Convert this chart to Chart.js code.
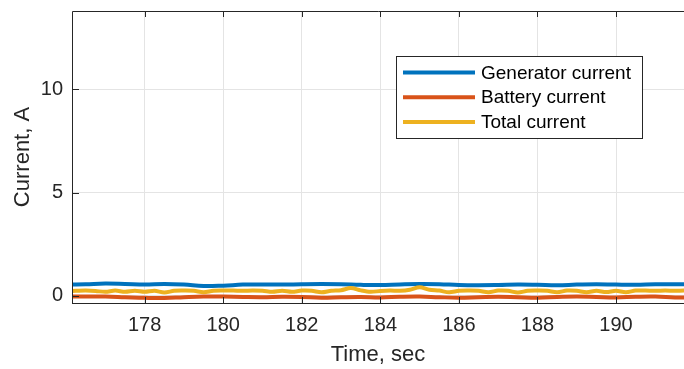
<!DOCTYPE html>
<html lang="en">
<head>
<meta charset="UTF-8" />
<title>Generator, battery and total current</title>
<script src="https://cdn.jsdelivr.net/npm/chart.js"></script>
<style>
  body { margin: 0; background: #fff; }
  #wrap { width: 684px; height: 369px; }
</style>
</head>
<body>
<div id="wrap"><canvas id="currentChart" width="684" height="369"></canvas></div>
<script>
  // time samples (sec)
  const timeCoarse = [176, 176.5, 177, 177.5, 178, 178.5, 179, 179.5, 180, 180.5, 181, 181.5,
    182, 182.5, 183, 183.5, 184, 184.5, 185, 185.5, 186, 186.5, 187, 187.5, 188, 188.5,
    189, 189.5, 190, 190.5, 191, 191.5, 192];
  const timeFine = [176, 176.25, 176.5, 176.75, 177, 177.25, 177.5, 177.75, 178, 178.25, 178.5, 178.75,
    179, 179.25, 179.5, 179.75, 180, 180.25, 180.5, 180.75, 181, 181.25, 181.5, 181.75,
    182, 182.25, 182.5, 182.75, 183, 183.25, 183.5, 183.75, 184, 184.25, 184.5, 184.75,
    185, 185.25, 185.5, 185.75, 186, 186.25, 186.5, 186.75, 187, 187.25, 187.5, 187.75,
    188, 188.25, 188.5, 188.75, 189, 189.25, 189.5, 189.75, 190, 190.25, 190.5, 190.75,
    191, 191.25, 191.5, 191.75, 192];

  // currents (A)
  const generatorCurrent = [0.55, 0.57, 0.6, 0.58, 0.55, 0.58, 0.55, 0.48, 0.5, 0.55, 0.56, 0.55,
    0.57, 0.58, 0.57, 0.54, 0.53, 0.56, 0.58, 0.57, 0.53, 0.52, 0.53, 0.55, 0.54, 0.52,
    0.55, 0.57, 0.55, 0.54, 0.57, 0.57, 0.56];
  const batteryCurrent = [-0.03, -0.02, -0.03, -0.06, -0.09, -0.1, -0.06, -0.03, -0.03, -0.05, -0.06, -0.04,
    -0.05, -0.08, -0.06, -0.05, -0.07, -0.04, -0.03, -0.06, -0.08, -0.06, -0.04, -0.06, -0.08, -0.05,
    -0.03, -0.05, -0.07, -0.04, -0.03, -0.07, -0.08];
  const totalCurrent = [0.24, 0.25, 0.26, 0.24, 0.2, 0.26, 0.2, 0.25, 0.2, 0.25, 0.17, 0.25,
    0.26, 0.25, 0.18, 0.25, 0.26, 0.26, 0.25, 0.26, 0.25, 0.2, 0.25, 0.2,
    0.26, 0.25, 0.18, 0.25, 0.28, 0.38, 0.27, 0.2, 0.24, 0.26, 0.25, 0.3,
    0.42, 0.3, 0.26, 0.18, 0.25, 0.26, 0.25, 0.18, 0.26, 0.25, 0.17, 0.25,
    0.26, 0.25, 0.18, 0.26, 0.25, 0.18, 0.25, 0.19, 0.25, 0.18, 0.26, 0.26,
    0.25, 0.26, 0.25, 0.26, 0.25];

  const xTicks = [178, 180, 182, 184, 186, 188, 190];
  const yTicks = [0, 5, 10];

  const axisColor = '#262626';
  const gridColor = '#e4e4e4';

  Chart.defaults.font.family = '"Liberation Sans", Arial, sans-serif';
  Chart.defaults.color = axisColor;

  const toPoints = (xs, ys) => xs.map((x, i) => ({ x: x, y: ys[i] }));

  // matlab style box, inward ticks and legend
  const boxPlugin = {
    id: 'matlabBox',
    afterDatasetsDraw(chart) {
      const { ctx, chartArea: a, scales } = chart;
      ctx.save();
      ctx.strokeStyle = axisColor;
      ctx.lineWidth = 1;
      ctx.beginPath();
      ctx.moveTo(a.left + 0.5, a.bottom + 0.5);
      ctx.lineTo(a.left + 0.5, a.top + 0.5);
      ctx.lineTo(a.right, a.top + 0.5);
      ctx.moveTo(a.left, a.bottom + 0.5);
      ctx.lineTo(a.right, a.bottom + 0.5);
      xTicks.forEach(v => {
        const x = Math.round(scales.x.getPixelForValue(v)) + 0.5;
        ctx.moveTo(x, a.bottom); ctx.lineTo(x, a.bottom - 6);
        ctx.moveTo(x, a.top); ctx.lineTo(x, a.top + 6);
      });
      yTicks.forEach(v => {
        const y = Math.round(scales.y.getPixelForValue(v)) + 0.5;
        ctx.moveTo(a.left, y); ctx.lineTo(a.left + 7, y);
      });
      ctx.stroke();

      // legend
      const lx = 396, ly = 56, lw = 246, lh = 82;
      ctx.fillStyle = '#fff';
      ctx.fillRect(lx, ly, lw, lh);
      ctx.strokeRect(lx + 0.5, ly + 0.5, lw, lh);
      ctx.font = '19px "Liberation Sans", Arial, sans-serif';
      ctx.textBaseline = 'middle';
      chart.data.datasets.forEach((ds, i) => {
        const y = ly + 16.5 + i * 24.7;
        ctx.strokeStyle = ds.borderColor;
        ctx.lineWidth = 4;
        ctx.beginPath();
        ctx.moveTo(403, y); ctx.lineTo(475, y);
        ctx.stroke();
        ctx.fillStyle = '#000';
        ctx.fillText(ds.label, 481, y + 1);
      });
      ctx.restore();
    }
  };

  const ctx = document.getElementById('currentChart').getContext('2d');
  const currentChart = new Chart(ctx, {
    type: 'line',
    data: {
      datasets: [
        { label: 'Generator current', data: toPoints(timeCoarse, generatorCurrent),
          borderColor: '#0072bd', borderWidth: 4, pointRadius: 0, tension: 0.4, order: 3 },
        { label: 'Battery current', data: toPoints(timeCoarse, batteryCurrent),
          borderColor: '#d95319', borderWidth: 4, pointRadius: 0, tension: 0.4, order: 2 },
        { label: 'Total current', data: toPoints(timeFine, totalCurrent),
          borderColor: '#edb120', borderWidth: 4, pointRadius: 0, tension: 0.3, order: 1 }
      ]
    },
    options: {
      responsive: false,
      animation: false,
      devicePixelRatio: 1,
      layout: { padding: { top: 11, right: 0, bottom: 0, left: 0 } },
      plugins: { legend: { display: false }, tooltip: { enabled: false } },
      scales: {
        x: {
          type: 'linear',
          min: 176.15,
          max: 191.73,
          afterBuildTicks: s => { s.ticks = xTicks.map(v => ({ value: v })); },
          afterFit: s => { s.height = 66; s.paddingLeft = 0; s.paddingRight = 0; },
          grid: { color: gridColor, drawTicks: false },
          border: { display: false },
          ticks: { font: { size: 20 }, padding: 10, color: axisColor, maxRotation: 0 },
          title: { display: true, text: 'Time, sec', font: { size: 22 }, color: axisColor, padding: { top: 0, bottom: 1 } }
        },
        y: {
          min: -0.34,
          max: 13.79,
          afterBuildTicks: s => { s.ticks = yTicks.map(v => ({ value: v })); },
          afterFit: s => { s.width = 72; s.paddingTop = 0; s.paddingBottom = 0; },
          grid: { color: gridColor, drawTicks: false },
          border: { display: false },
          ticks: { font: { size: 20 }, padding: 9, color: axisColor },
          title: { display: true, text: 'Current, A', font: { size: 22 }, color: axisColor, padding: { top: 10, bottom: 0 } }
        }
      }
    },
    plugins: [boxPlugin]
  });
</script>
</body>
</html>
